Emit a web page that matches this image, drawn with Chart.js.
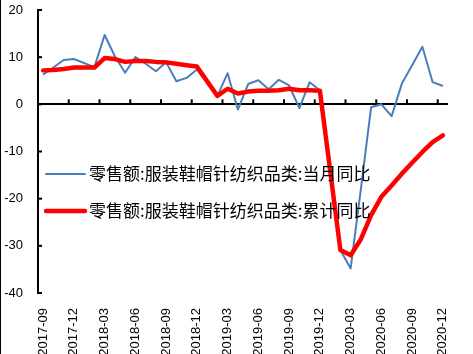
<!DOCTYPE html>
<html><head><meta charset="utf-8">
<script src="https://cdn.jsdelivr.net/npm/chart.js@4"></script>
<style>html,body{margin:0;padding:0;background:#fff}#wrap{width:473px;height:354px;position:relative}</style>
</head><body><div id="wrap"><canvas id="c" width="473" height="354"></canvas></div>
<script>
const categories = ['2017-09','2017-10','2017-11','2017-12','2018-01','2018-02','2018-03','2018-04','2018-05','2018-06','2018-07','2018-08','2018-09','2018-10','2018-11','2018-12','2019-01','2019-02','2019-03','2019-04','2019-05','2019-06','2019-07','2019-08','2019-09','2019-10','2019-11','2019-12','2020-01','2020-02','2020-03','2020-04','2020-05','2020-06','2020-07','2020-08','2020-09','2020-10','2020-11','2020-12'];
const tickLabels = ['2017-09','2017-12','2018-03','2018-06','2018-09','2018-12','2019-03','2019-06','2019-09','2019-12','2020-03','2020-06','2020-09','2020-12'];
const monthlyYoY = [6.3,7.8,9.4,9.6,null,7.9,14.7,10.2,6.7,10.0,8.6,7.0,8.9,4.9,5.6,7.4,null,1.8,6.6,-1.1,4.3,5.1,3.2,5.2,4.0,-0.8,4.7,3.0,null,-30.9,-34.8,-18.0,-0.6,0.0,-2.5,4.4,8.3,12.2,4.7,3.9];
const cumulativeYoY = [7.2,7.3,7.5,7.8,null,7.8,9.8,9.6,9.0,9.2,9.2,9.0,8.9,8.6,8.3,8.0,null,1.8,3.3,2.3,2.7,2.9,2.9,3.0,3.3,3.0,3.0,2.9,null,-30.9,-32.0,-28.6,-23.5,-19.6,-17.2,-14.7,-12.4,-10.1,-8.0,-6.6];
const seriesNames = ['零售额:服装鞋帽针纺织品类:当月同比','零售额:服装鞋帽针纺织品类:累计同比'];
const yMin = -40, yMax = 20, yStep = 10;

const latin = '"Liberation Sans", Arial, sans-serif';

const axisPlugin = {
  id: 'axisMarks',
  beforeDraw(chart) {
    const c = chart.ctx;
    c.save(); c.fillStyle = '#000'; c.fillRect(0, 0, 1, chart.height); c.restore();
  },
  beforeDatasetsDraw(chart) {
    const c = chart.ctx, xs = chart.scales.x, ys = chart.scales.y;
    const ax = chart.chartArea.left;
    c.save();
    c.strokeStyle = '#000'; c.lineWidth = 2;
    ys.ticks.forEach(t => {
      const py = ys.getPixelForValue(t.value);
      c.beginPath(); c.moveTo(ax, py); c.lineTo(ax + 4, py); c.stroke();
    });
    const zy = ys.getPixelForValue(0);
    categories.forEach((lab, i) => {
      if (i > 0 && tickLabels.includes(lab)) {
        const px = (xs.getPixelForValue(i - 1) + xs.getPixelForValue(i)) / 2;
        c.beginPath(); c.moveTo(px, zy); c.lineTo(px, zy - 5); c.stroke();
      }
    });
    c.restore();
  }
};

const legendPlugin = {
  id: 'insideLegend',
  afterDatasetsDraw(chart) {
    const c = chart.ctx, a = chart.chartArea;
    const order = [0, 1];
    const rowsY = [a.top + 164, a.top + 201];
    c.save();
    order.forEach((di, r) => {
      const ds = chart.data.datasets[di];
      const y = rowsY[r];
      c.strokeStyle = ds.borderColor; c.lineWidth = ds.borderWidth; c.lineCap = 'round';
      c.beginPath(); c.moveTo(a.left + 8, y); c.lineTo(a.left + 47, y); c.stroke();
      c.fillStyle = '#000'; c.textBaseline = 'middle'; c.textAlign = 'left';
      c.font = '17px "Noto Sans CJK SC", sans-serif';
      c.fillText(ds.label, a.left + 51, y);
    });
    c.restore();
  }
};

new Chart(document.getElementById('c'), {
  type: 'line',
  data: {
    labels: categories,
    datasets: [
      { label: seriesNames[0], data: monthlyYoY, borderColor: '#4A7EBB', borderWidth: 2, pointRadius: 0, spanGaps: true, order: 1, tension: 0, borderJoinStyle: 'round' },
      { label: seriesNames[1], data: cumulativeYoY, borderColor: '#FF0000', borderWidth: 4.5, pointRadius: 0, spanGaps: true, order: 0, tension: 0, borderJoinStyle: 'round', borderCapStyle: 'round' }
    ]
  },
  options: {
    responsive: false, animation: false, devicePixelRatio: 1,
    layout: { padding: { top: 0, right: 25, left: 0, bottom: 0 } },
    plugins: { legend: { display: false }, tooltip: { enabled: false } },
    scales: {
      x: {
        offset: true,
        grid: { display: false },
        border: { display: false },
        ticks: {
          autoSkip: false, maxRotation: 90, minRotation: 90, padding: 7, color: '#000',
          font: { size: 13, family: latin },
          callback: (v, i) => tickLabels.includes(categories[i]) ? categories[i] : ''
        },
        afterFit: s => { s.height = 61; }
      },
      y: {
        min: yMin, max: yMax,
        ticks: { stepSize: yStep, padding: 15, color: '#000', font: { size: 13, family: latin } },
        grid: { drawTicks: false, lineWidth: 2, color: c => (c.tick && c.tick.value === 0) ? '#000' : 'rgba(0,0,0,0)' },
        border: { display: true, color: '#000', width: 2 },
        afterFit: s => { s.width = 38; s.paddingTop = 10; s.paddingBottom = 10; }
      }
    }
  },
  plugins: [axisPlugin, legendPlugin]
});
</script>
</body></html>
